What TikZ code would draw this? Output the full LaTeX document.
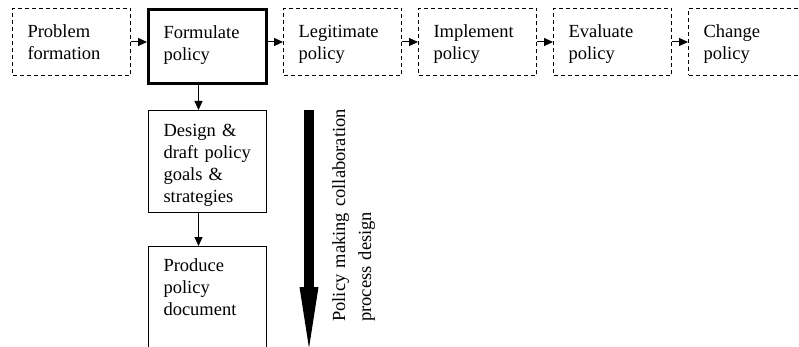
\documentclass[tikz,border=0pt]{standalone}
\usepackage{fontspec}
\setmainfont{Liberation Serif}
\usetikzlibrary{arrows.meta,positioning,calc}
\tikzset{
  stage/.style={draw,dash pattern=on 4pt off 3pt,line width=1pt,align=left,
                text width=88pt,inner xsep=15pt,inner ysep=0pt,
                text height=29pt,text depth=38pt,
                font=\fontsize{18.5}{22}\selectfont},
  stagecur/.style={stage,solid,line width=3pt,text depth=45pt},
  task/.style={draw,line width=1pt,align=left,text width=88pt,
               inner xsep=15pt,inner ysep=0pt,text height=26pt,text depth=76pt,
               font=\fontsize{18.5}{22}\selectfont},
  ar/.style={-{Triangle[length=9pt,width=8pt]},line width=1pt},
  bigar/.style={-{Triangle[length=61pt,width=19pt,line width=0pt]},line width=10pt},
  side/.style={rotate=90,anchor=north west,align=left,text width=215pt,
               inner sep=0pt,text height=13pt,
               font=\fontsize{18.5}{26}\selectfont},
}
\begin{document}
\begin{tikzpicture}
  \useasboundingbox (0pt,0pt) rectangle (799pt,-347pt);
  % policy stages
  \node[stage,anchor=north west] (pf) at (12pt,-8pt) {Problem\\formation};
  \node[stagecur,right=16pt of pf.north east,anchor=north west] (fp) {Formulate\\policy};
  \node[stage,right=15pt of fp.north east,anchor=north west] (lp) {Legitimate\\policy};
  \node[stage,right=16pt of lp.north east,anchor=north west] (ip) {Implement\\policy};
  \node[stage,right=16pt of ip.north east,anchor=north west] (ep) {Evaluate\\policy};
  \node[stage,right=16pt of ep.north east,anchor=north west,text width=110pt] (cp) {Change\\policy};
  \foreach \a/\b in {pf/fp,fp/lp,lp/ip,ip/ep,ep/cp}
    {\draw[ar] (\a.east |- pf.east) -- (\b.west |- pf.east);}
  % formulation tasks
  \node[task,below=25pt of fp.south west,anchor=north west,xshift=1pt] (dd) {Design \&\\draft policy\\goals \&\\strategies};
  \node[task,below=33pt of dd.south west,anchor=north west,text height=25pt] (pd) {Produce\\policy\\document};
  \draw[ar] ([xshift=-9pt]fp.south) -- ([xshift=-9pt]dd.north);
  \draw[ar] ([xshift=-9pt]dd.south) -- ([xshift=-9pt]pd.north);
  % process direction
  \coordinate (s1) at ($(dd.north east)+(42pt,0)$);
  \coordinate (s2) at (s1 |- pd.south);
  \draw[bigar] (s1) -- (s2);
  \node[side] (pm) at ($(pd.south east)+(65pt,26pt)$) {Policy making collaboration\\process design};
\end{tikzpicture}
\end{document}
